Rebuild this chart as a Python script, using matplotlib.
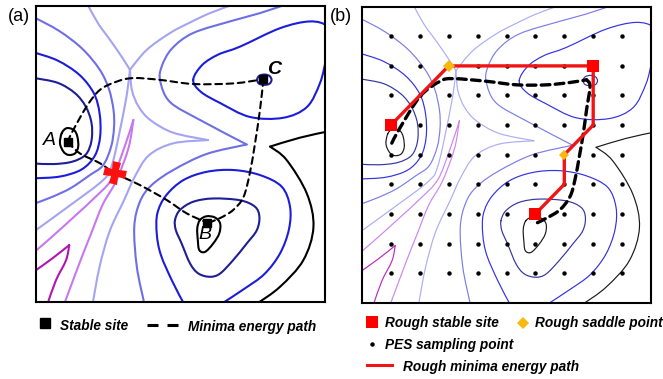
import numpy as np
import matplotlib
matplotlib.use("Agg")
import matplotlib.pyplot as plt
from matplotlib.path import Path
from matplotlib.patches import PathPatch
from matplotlib.markers import MarkerStyle
from matplotlib.transforms import Affine2D
from matplotlib.lines import Line2D
from matplotlib import font_manager

# ---------------- data (PES units 0..10) ----------------
# contour lines of the schematic potential energy surface (x, y)
A_L0 = [(0.89, 5.70), (1.06, 5.87), (1.31, 5.81), (1.43, 5.59), (1.46, 5.25),
        (1.35, 5.02), (1.12, 4.97), (0.95, 5.08), (0.83, 5.36)]
A_L1 = [(-0.05, 7.56), (0.75, 7.40), (1.35, 7.05), (1.72, 6.60), (1.92, 6.05),
        (1.92, 5.45), (1.72, 4.98), (1.25, 4.74), (0.60, 4.66), (-0.05, 4.68)]
A_L2 = [(-0.05, 8.42), (0.75, 8.15), (1.50, 7.67), (2.00, 7.05), (2.20, 6.37),
        (2.22, 5.60), (2.04, 4.95), (1.58, 4.48), (0.83, 4.24), (-0.05, 4.18)]
A_L3 = [(-0.05, 9.60), (0.80, 9.15), (1.60, 8.55), (2.20, 7.85), (2.52, 7.20),
        (2.68, 6.50), (2.70, 5.90), (2.60, 5.25), (2.32, 4.62), (1.85, 4.28),
        (1.20, 3.85), (0.55, 3.55), (-0.05, 3.33)]
A_L4_up = [(1.78, 10.05), (2.15, 9.40), (2.56, 8.85), (2.95, 8.30), (3.25, 7.84)]
A_L4_low = [(3.25, 7.84), (3.15, 7.05), (2.93, 5.92), (2.62, 4.60), (2.30, 4.10),
            (1.15, 3.25), (-0.05, 2.40)]
CB_L4_top = [(6.85, 10.05), (6.02, 9.75), (5.30, 9.42), (4.64, 9.08), (3.83, 8.51),
             (3.25, 7.84)]
CB_L4_up = [(3.25, 7.84), (3.32, 7.15), (3.55, 6.60), (3.95, 6.15), (4.74, 5.72),
            (5.95, 5.47)]
CB_L4_low = [(5.95, 5.47), (4.75, 5.36), (3.90, 4.95), (3.40, 4.20), (3.05, 3.45),
             (2.55, 2.40), (2.20, 1.20), (1.96, -0.05)]
L5_left = [(3.37, 6.15), (3.05, 5.20), (2.62, 4.15), (2.00, 3.50), (1.38, 2.94),
           (0.60, 2.25), (-0.05, 1.70)]
L5_right = [(3.37, 6.15), (3.20, 5.20), (2.78, 4.10), (2.31, 3.30), (1.90, 2.30),
            (1.50, 1.31), (0.98, -0.05)]
L6_left = [(-0.05, 1.05), (0.58, 1.49), (1.15, 1.93)]
L6_right = [(1.15, 1.93), (1.04, 1.42), (0.69, 0.74), (0.40, -0.05)]
CB_L3_up = [(8.67, 10.05), (7.75, 9.75), (6.82, 9.50), (5.44, 9.08), (4.70, 8.55),
            (4.35, 7.95), (4.30, 7.45), (4.64, 6.75), (5.67, 6.15), (7.29, 5.32)]
CB_L3_low = [(7.29, 5.32), (5.90, 5.00), (4.75, 4.46), (4.00, 3.95), (3.60, 3.40),
             (3.40, 2.54), (3.49, 1.19), (3.75, -0.05)]
C_L2 = [(5.44, 7.50), (5.75, 8.00), (6.30, 8.35), (7.06, 8.62), (8.44, 9.24),
        (9.48, 9.47), (10.10, 9.30), (10.30, 8.80), (10.05, 8.20), (9.83, 7.40),
        (9.38, 6.59), (8.55, 6.22), (7.40, 6.25), (6.37, 6.72), (5.70, 7.10)]
C_L1 = [(7.65, 7.50), (7.72, 7.63), (7.90, 7.68), (8.08, 7.63), (8.15, 7.50),
        (8.08, 7.37), (7.90, 7.33), (7.72, 7.37)]
B_L0 = [(5.67, 2.77), (5.90, 2.90), (6.19, 2.86), (6.37, 2.66), (6.34, 2.32),
        (6.13, 1.98), (5.85, 1.70), (5.65, 1.76), (5.60, 2.09), (5.58, 2.49)]
B_L1 = [(4.81, 2.77), (4.98, 3.11), (5.44, 3.39), (6.13, 3.50), (7.06, 3.44),
        (7.58, 3.22), (7.73, 2.88), (7.64, 2.43), (7.29, 1.98), (6.82, 1.42),
        (6.37, 0.97), (6.02, 0.86), (5.62, 0.97), (5.33, 1.31), (5.04, 1.98),
        (4.84, 2.43)]
B_L2 = [(5.12, -0.05), (4.72, 0.70), (4.32, 1.60), (4.18, 2.30), (4.20, 3.00),
        (4.50, 3.60), (5.10, 4.12), (5.91, 4.40), (6.83, 4.46), (7.75, 4.29),
        (8.50, 3.90), (8.79, 3.22), (8.75, 2.45), (8.44, 1.64), (7.90, 0.95),
        (7.20, 0.45), (6.42, -0.05)]
E_L0_up = [(10.10, 5.76), (9.13, 5.55), (8.10, 5.25)]
E_L0_low = [(8.10, 5.25), (8.67, 4.80), (9.37, 3.67), (9.60, 2.54), (9.25, 1.42),
            (8.44, 0.52), (7.64, -0.05)]

level_colors = ["#000000", "#1e1e96", "#1c1cdc", "#6e6ee6", "#a4a4f2", "#c878ee", "#b414b4"]

# stable sites and the minimum energy paths (panel a)
site_names = ["A", "B", "C"]
site_x = [1.10, 5.93, 7.87]
site_y = [5.40, 2.69, 7.52]
label_x = [0.48, 5.86, 8.24]
label_y = [5.44, 2.30, 7.84]
path_AC = [(1.10, 5.40), (1.23, 5.70), (1.75, 6.60), (2.21, 7.16), (2.79, 7.44),
           (3.37, 7.56), (4.29, 7.50), (5.44, 7.36), (6.82, 7.38), (7.87, 7.52)]
path_CB = [(7.87, 7.52), (7.75, 6.49), (7.58, 5.37), (7.40, 4.36), (7.18, 3.55),
           (6.82, 3.11), (6.37, 2.84), (5.93, 2.67)]
path_AB = [(1.10, 5.40), (1.52, 5.02), (2.21, 4.69), (2.73, 4.35), (3.60, 3.95),
           (4.52, 3.45), (5.21, 3.00), (5.93, 2.68)]
cross_x, cross_y = 2.73, 4.35

# panel b: sampling grid, rough path, rough sites
grid_x = [1, 2, 3, 4, 5, 6, 7, 8, 9]
grid_y = [1, 2, 3, 4, 5, 6, 7, 8, 9]
rough_path_x = [1, 2, 3, 4, 5, 6, 7, 8, 8, 8, 7, 7, 6]
rough_path_y = [6, 7, 8, 8, 8, 8, 8, 8, 7, 6, 5, 4, 3]
rough_stable_x = [1, 8, 6]
rough_stable_y = [6, 8, 3]
rough_saddle_x = [3, 7]
rough_saddle_y = [8, 5]
rough_saddle_size = [6.5, 4.7]
mep_b_1 = [(1.03, 5.39), (1.31, 5.90), (2.01, 6.97), (2.70, 7.48), (3.16, 7.57),
           (4.31, 7.48), (5.35, 7.36), (6.39, 7.36), (7.20, 7.44), (7.77, 7.53)]
mep_b_2 = [(7.77, 7.53), (7.89, 7.31), (7.77, 6.52), (7.66, 5.73), (7.52, 4.94),
           (7.37, 4.16), (7.20, 3.59), (6.85, 3.14), (6.39, 2.86), (5.93, 2.64)]

# ---------------- helpers ----------------
def smooth_path(pts, closed=False):
    P = np.asarray(pts, float)
    n = len(P)
    if closed:
        ext = np.vstack([P[-1], P, P[0], P[1]])
        segs = n
    else:
        ext = np.vstack([P[0], P, P[-1]])
        segs = n - 1
    verts = [ext[1]]
    codes = [Path.MOVETO]
    for i in range(segs):
        p0, p1, p2, p3 = ext[i], ext[i + 1], ext[i + 2], ext[i + 3]
        verts += [p1 + (p2 - p0) / 6.0, p2 - (p3 - p1) / 6.0, p2]
        codes += [Path.CURVE4] * 3
    return Path(verts, codes)


def draw_curve(ax, pts, closed=False, **kw):
    patch = PathPatch(smooth_path(pts, closed), fill=False,
                      capstyle="round", joinstyle="round", **kw)
    ax.add_patch(patch)
    return patch


curves = [
    (A_L0, 0, True), (A_L1, 1, False), (A_L2, 2, False), (A_L3, 3, False),
    (A_L4_up, 4, False), (A_L4_low, 4, False),
    (CB_L4_top, 4, False), (CB_L4_up, 4, False), (CB_L4_low, 4, False),
    (L5_left, 5, False), (L5_right, 5, False), (L6_left, 6, False), (L6_right, 6, False),
    (CB_L3_up, 3, False), (CB_L3_low, 3, False), (C_L2, 2, True), (C_L1, 1, True),
    (B_L0, 0, True), (B_L1, 1, True), (B_L2, 2, False),
    (E_L0_up, 0, False), (E_L0_low, 0, False),
]

names = {f.name for f in font_manager.fontManager.ttflist}
if "Liberation Sans Narrow" in names:
    leg_family, leg_size = "Liberation Sans Narrow", 11.5
else:
    leg_family, leg_size = "Liberation Sans", 9.8
base_family = "Liberation Sans"

W, H = 663, 379
fig = plt.figure(figsize=(W / 100, H / 100), dpi=100)
ax_a = fig.add_axes([36 / W, 1 - 302.3 / H, 289 / W, 296.6 / H])
ax_b = fig.add_axes([362 / W, 1 - 302.7 / H, 289 / W, 296.0 / H])

for ax in (ax_a, ax_b):
    ax.set_xlim(0, 10)
    ax.set_ylim(0, 10)
    ax.set_xticks([])
    ax.set_yticks([])
    for s in ax.spines.values():
        s.set_linewidth(1.5)
        s.set_color("black")
        s.set_zorder(10)

# contours
for pts, lev, closed in curves:
    draw_curve(ax_a, pts, closed, edgecolor=level_colors[lev], linewidth=1.5, zorder=1)
    draw_curve(ax_b, pts, closed, edgecolor=level_colors[lev], linewidth=0.85,
               alpha=0.9, zorder=1)

# ---------------- panel a ----------------
for p in (path_AC, path_CB, path_AB):
    draw_curve(ax_a, p, False, edgecolor="black", linewidth=1.5,
               linestyle=(0, (3.2, 2.2)), zorder=3)
cross = MarkerStyle("P", transform=Affine2D().rotate_deg(-10))
ax_a.plot([cross_x], [cross_y], marker=cross, markersize=16, color="#ff1010",
          markeredgewidth=0, linestyle="none", zorder=4)
ax_a.plot(site_x, site_y, "s", color="black", markersize=5.5, zorder=5)
for nm, lx, ly in zip(site_names, label_x, label_y):
    ax_a.text(lx, ly, nm, fontsize=14, style="italic",
              weight="bold" if nm == "C" else "normal",
              family=base_family, ha="center", va="center", zorder=6)

# ---------------- panel b ----------------
gx, gy = np.meshgrid(grid_x, grid_y)
ax_b.plot(gx.ravel(), gy.ravel(), "o", color="black", markersize=3.2,
          markeredgewidth=0, zorder=2)
draw_curve(ax_b, mep_b_1, False, edgecolor="black", linewidth=2.4,
           linestyle=(0, (2.6, 1.6)), zorder=3)
draw_curve(ax_b, mep_b_2, False, edgecolor="black", linewidth=2.4,
           linestyle=(0, (2.6, 1.6)), zorder=3)
ax_b.plot(rough_path_x, rough_path_y, color="#f01414", linewidth=2.4, zorder=4,
          solid_capstyle="butt", solid_joinstyle="miter")
ax_b.plot(rough_stable_x, rough_stable_y, "s", color="#ff0000", markersize=8.4,
          markeredgewidth=0, zorder=5)
for sx, sy, ms in zip(rough_saddle_x, rough_saddle_y, rough_saddle_size):
    ax_b.plot([sx], [sy], "D", color="#f7b90c", markersize=ms,
              markeredgewidth=0, zorder=6)

# ---------------- panel labels ----------------
fig.text(8 / W, 1 - 16.5 / H, "(a)", fontsize=13, family=base_family,
         ha="left", va="center")
fig.text(330 / W, 1 - 16.5 / H, "(b)", fontsize=13, family=base_family,
         ha="left", va="center")

# ---------------- legends ----------------
def fx(px):
    return px / W


def fy(py):
    return 1 - py / H


def leg_text(px, py, s):
    fig.text(fx(px), fy(py), s, fontsize=leg_size, family=[leg_family, base_family],
             style="italic", weight="bold", ha="left", va="baseline")


fig.add_artist(Line2D([fx(45)], [fy(323)], marker="s", color="black",
                      markersize=6.5, linestyle="none", transform=fig.transFigure))
leg_text(60, 330.5, "Stable site")
fig.add_artist(Line2D([fx(147), fx(179)], [fy(325), fy(325)], color="black",
                      linewidth=2.2, linestyle=(0, (3.6, 2.95)),
                      transform=fig.transFigure))
leg_text(188, 330.5, "Minima energy path")

fig.add_artist(Line2D([fx(372)], [fy(322)], marker="s", color="#ff0000",
                      markersize=8.5, markeredgewidth=0, linestyle="none",
                      transform=fig.transFigure))
leg_text(385, 327.3, "Rough stable site")
fig.add_artist(Line2D([fx(523)], [fy(323)], marker="D", color="#f7b90c",
                      markersize=5.7, markeredgewidth=0, linestyle="none",
                      transform=fig.transFigure))
leg_text(535, 327.3, "Rough saddle point")
fig.add_artist(Line2D([fx(372)], [fy(343.5)], marker="o", color="black",
                      markersize=3.2, markeredgewidth=0, linestyle="none",
                      transform=fig.transFigure))
leg_text(385, 349.3, "PES sampling point")
fig.add_artist(Line2D([fx(367), fx(392)], [fy(364.5), fy(364.5)], color="#f01414",
                      linewidth=2.2, transform=fig.transFigure))
leg_text(403, 370.7, "Rough minima energy path")

fig.savefig("out.png", dpi=100)
